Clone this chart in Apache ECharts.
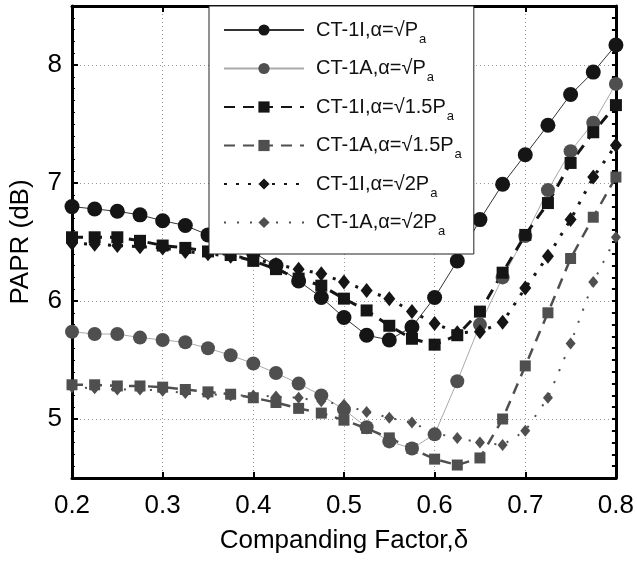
<!DOCTYPE html>
<html>
<head>
<meta charset="utf-8">
<script src="https://cdn.jsdelivr.net/npm/echarts@6/dist/echarts.min.js"></script>
<style>
html,body{margin:0;padding:0;background:#fff}
#main{width:637px;height:562px}
</style>
</head>
<body>
<div id="main"></div>
<script>
// companding factor
var deltas = [0.2, 0.225, 0.25, 0.275, 0.3, 0.325, 0.35, 0.375, 0.4, 0.425, 0.45, 0.475, 0.5,
    0.525, 0.55, 0.575, 0.6, 0.625, 0.65, 0.675, 0.7, 0.725, 0.75, 0.775, 0.8];
// PAPR (dB)
var ct1I_P   = [6.80, 6.78, 6.76, 6.73, 6.68, 6.64, 6.56, 6.49, 6.41, 6.30, 6.17, 6.03, 5.86,
    5.71, 5.67, 5.78, 6.03, 6.34, 6.69, 6.99, 7.24, 7.49, 7.75, 7.94, 8.17];
var ct1A_P   = [5.74, 5.72, 5.72, 5.69, 5.67, 5.65, 5.60, 5.54, 5.47, 5.39, 5.30, 5.20, 5.08,
    4.93, 4.81, 4.75, 4.87, 5.32, 5.80, 6.20, 6.55, 6.94, 7.27, 7.51, 7.84];
var ct1I_15P = [6.54, 6.54, 6.54, 6.51, 6.47, 6.45, 6.42, 6.39, 6.34, 6.27, 6.19, 6.13, 6.02,
    5.92, 5.79, 5.68, 5.63, 5.71, 5.91, 6.24, 6.56, 6.83, 7.17, 7.43, 7.66];
var ct1A_15P = [5.29, 5.29, 5.28, 5.28, 5.27, 5.25, 5.23, 5.21, 5.18, 5.14, 5.09, 5.05, 4.99,
    4.92, 4.84, 4.75, 4.66, 4.61, 4.67, 5.00, 5.45, 5.90, 6.36, 6.71, 7.05];
var ct1I_2P  = [6.49, 6.48, 6.47, 6.46, 6.45, 6.42, 6.40, 6.38, 6.36, 6.31, 6.27, 6.23, 6.16,
    6.09, 6.02, 5.91, 5.81, 5.73, 5.74, 5.82, 6.11, 6.38, 6.69, 7.05, 7.32];
var ct1A_2P  = [5.27, 5.26, 5.25, 5.25, 5.24, 5.22, 5.21, 5.20, 5.20, 5.19, 5.18, 5.15, 5.12,
    5.06, 5.01, 4.97, 4.88, 4.84, 4.80, 4.78, 4.90, 5.18, 5.64, 6.16, 6.54];

var xTicks = [0.2, 0.3, 0.4, 0.5, 0.6, 0.7, 0.8];
var yTicks = [5, 6, 7, 8];

// legend labels: main part + subscript
var names = [
    ['CT-1I,α=√P', 'a'],
    ['CT-1A,α=√P', 'a'],
    ['CT-1I,α=√1.5P', 'a'],
    ['CT-1A,α=√1.5P', 'a'],
    ['CT-1I,α=√2P', 'a'],
    ['CT-1A,α=√2P', 'a']
];

var FONT = 'Liberation Sans';
var BLACK = '#151515', GRAY = '#4f4f4f';

function pairs(ys) {
    var out = [];
    for (var i = 0; i < deltas.length; i++) out.push([deltas[i], ys[i]]);
    return out;
}

function mkSeries(idx, ys, symbol, size, color, line) {
    return {
        name: names[idx].join(''),
        type: 'line',
        data: pairs(ys),
        symbol: symbol,
        symbolSize: size,
        clip: false,
        itemStyle: { color: color },
        lineStyle: line,
        emphasis: { disabled: true },
        animation: false
    };
}

var series = [
    mkSeries(0, ct1I_P, 'circle', 15, BLACK, { color: '#333', width: 1, type: 'solid' }),
    mkSeries(1, ct1A_P, 'circle', 14, GRAY, { color: '#aaa', width: 1, type: 'solid' }),
    mkSeries(2, ct1I_15P, 'rect', 12, BLACK, { color: BLACK, width: 3, type: [11, 8] }),
    mkSeries(3, ct1A_15P, 'rect', 11, GRAY, { color: GRAY, width: 2.5, type: [11, 8] }),
    mkSeries(4, ct1I_2P, 'diamond', [12, 15], BLACK, { color: BLACK, width: 3, type: [3, 9] }),
    mkSeries(5, ct1A_2P, 'diamond', [10, 12], GRAY, { color: GRAY, width: 2, type: [2, 11] })
];

var legendFmt = {};
for (var i = 0; i < names.length; i++) {
    legendFmt[names[i].join('')] = '{n|' + names[i][0] + '}{s|' + names[i][1] + '}';
}

var chart = echarts.init(document.getElementById('main'));
var option = {
    backgroundColor: '#fff',
    animation: false,
    grid: { left: 70, right: 21, top: 6, bottom: 84 },
    legend: {
        orient: 'vertical',
        left: 209,
        top: 6,
        padding: [14, 12, 16, 14],
        itemWidth: 80,
        itemHeight: 14,
        itemGap: 13,
        backgroundColor: '#fff',
        borderColor: '#222',
        borderWidth: 1,
        data: series.map(function (s) { return s.name; }),
        formatter: function (n) { return legendFmt[n]; },
        textStyle: {
            rich: {
                n: { fontFamily: FONT, fontSize: 20, color: '#111', padding: [0, 0, 0, 7] },
                s: { fontFamily: FONT, fontSize: 13, color: '#111', padding: [18, 0, 0, 1] }
            }
        }
    },
    xAxis: [{
        type: 'value',
        min: 0.2, max: 0.8, interval: 0.1,
        name: 'Companding Factor,δ',
        nameLocation: 'middle',
        nameGap: 50,
        nameTextStyle: { fontFamily: FONT, fontSize: 26, color: '#000' },
        axisLine: { onZero: false, lineStyle: { color: '#000', width: 3 } },
        axisTick: { inside: true, length: 6, lineStyle: { color: '#000', width: 2 } },
        axisLabel: {
            margin: 15, fontFamily: FONT, fontSize: 26, color: '#000',
            formatter: function (v) { return v.toFixed(1); }
        },
        splitLine: { show: true, lineStyle: { color: '#999', width: 1, type: [1, 3] } }
    }, {
        type: 'value',
        position: 'top',
        min: 0.2, max: 0.8, interval: 0.1,
        axisLine: { onZero: false, lineStyle: { color: '#000', width: 3 } },
        axisTick: { inside: true, length: 6, lineStyle: { color: '#000', width: 2 } },
        axisLabel: { show: false },
        splitLine: { show: false }
    }],
    yAxis: [{
        type: 'value',
        min: 4.5, max: 8.5,
        name: 'PAPR (dB)',
        nameLocation: 'middle',
        nameGap: 38,
        nameTextStyle: { fontFamily: FONT, fontSize: 26, color: '#000' },
        axisLine: { onZero: false, lineStyle: { color: '#000', width: 3 } },
        axisTick: { inside: true, length: 6, customValues: yTicks, lineStyle: { color: '#000', width: 2 } },
        axisLabel: { margin: 10, customValues: yTicks, fontFamily: FONT, fontSize: 26, color: '#000' },
        splitLine: { show: true, lineStyle: { color: '#999', width: 1, type: [1, 3] } }
    }, {
        type: 'value',
        position: 'right',
        min: 4.5, max: 8.5, interval: 0.1,
        axisLine: { show: true, onZero: false, lineStyle: { color: '#000', width: 3 } },
        axisTick: { inside: true, length: 4, lineStyle: { color: '#000', width: 2 } },
        axisLabel: { show: false },
        splitLine: { show: false }
    }, {
        type: 'value',
        position: 'left',
        min: 4.5, max: 8.5, interval: 0.1,
        axisLine: { show: false },
        axisTick: { inside: true, length: 3, lineStyle: { color: '#000', width: 1 } },
        axisLabel: { show: false },
        splitLine: { show: false }
    }],
    series: series
};
chart.setOption(option);
</script>
</body>
</html>
